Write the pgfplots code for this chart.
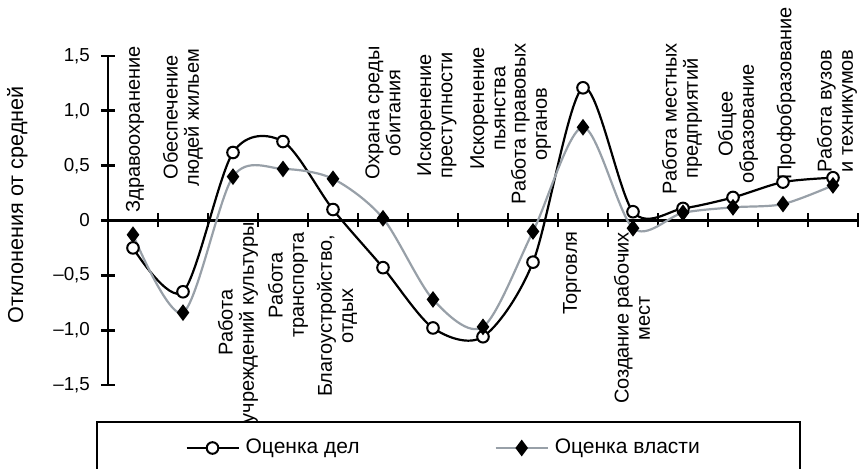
\documentclass[border=0pt]{standalone}
\usepackage{fontspec}
\setmainfont{Liberation Sans}
\usepackage{pgfplots}
\pgfplotsset{compat=1.18}
\definecolor{vlast}{RGB}{152,160,168}

\begin{document}
\begin{tikzpicture}
\useasboundingbox (-54pt,-42pt) rectangle (375.5pt,192.5pt);
\begin{axis}[
    at={(0pt,0pt)}, anchor=south west,
    x=25pt, y=54.833pt,
    xmin=-0.5, xmax=14.5, ymin=-1.5, ymax=1.5,
    axis x line=middle, axis y line=left,
    axis line style={-, line width=1.4pt},
    hide obscured x ticks=false, hide obscured y ticks=false,
    xtick={0.5,1.5,...,14.5}, xticklabels={},
    ytick={-1.5,-1,-0.5,0,0.5,1,1.5},
    yticklabels={{–1,5},{–1,0},{–0,5},{0},{0,5},{1,0},{1,5}},
    tick align=center, major tick length=7pt,
    tick style={line width=1.4pt, black},
    yticklabel style={font=\fontsize{9.4}{11}\selectfont, xshift=-2pt},
    ylabel={Отклонения от средней},
    ylabel style={at={(axis description cs:-0.121,0.547)}, anchor=center,
                  font=\fontsize{10.8}{12}\selectfont},
    clip=false,
    legend columns=2,
    legend style={draw=none, fill=none, inner sep=0pt,
        at={(axis description cs:0.1027,-0.1915)}, anchor=west,
        nodes={inner sep=0pt, font=\fontsize{10.5}{12}\selectfont},
        /tikz/every odd column/.style={column sep=3pt},
        /tikz/every even column/.style={column sep=0pt}},
    legend image code/.code={%
        \draw[mark repeat=2,mark phase=2,#1] plot coordinates {(0pt,0pt) (13pt,0pt) (26pt,0pt)};},
]
\addplot[black, line width=1.1pt, smooth, mark=*, mark size=2.9pt,
         mark options={fill=white, draw=black, line width=1pt}]
coordinates {(0,-0.25) (1,-0.65) (2,0.62) (3,0.72) (4,0.10) (5,-0.43) (6,-0.98) (7,-1.06)
             (8,-0.38) (9,1.21) (10,0.08) (11,0.11) (12,0.21) (13,0.35) (14,0.39)};
\addlegendentry{\makebox[124.5pt][l]{Оценка дел}}
\addplot[vlast, line width=1.1pt, smooth, mark=diamond*, mark size=3.3pt,
         mark options={fill=black, draw=black}]
coordinates {(0,-0.13) (1,-0.84) (2,0.40) (3,0.47) (4,0.38) (5,0.02) (6,-0.72) (7,-0.97)
             (8,-0.10) (9,0.85) (10,-0.07) (11,0.07) (12,0.12) (13,0.15) (14,0.32)};
\addlegendentry{Оценка власти}

\begin{scope}[every node/.style={rotate=90, align=center, font=\fontsize{10}{10.6}\selectfont}]
\node at (axis cs:0.04,0.83) {Здравоохранение};
\node at (axis cs:1.0,0.94) {Обеспечение\\людей жильем};
\node at (axis cs:2.1,-0.93) {Работа\\учреждений культуры};
\node at (axis cs:3.1,-0.59) {Работа\\транспорта};
\node at (axis cs:4.08,-0.87) {Благоустройство,\\отдых};
\node at (axis cs:5.0,0.98) {Охрана среды\\обитания};
\node at (axis cs:6.08,0.96) {Искоренение\\преступности};
\node at (axis cs:7.1,1.02) {Искоренение\\пьянства};
\node at (axis cs:7.96,0.88) {Работа правовых\\органов};
\node at (axis cs:8.78,-0.48) {Торговля};
\node at (axis cs:9.98,-0.89) {Создание рабочих\\мест};
\node at (axis cs:10.98,0.93) {Работа местных\\предприятий};
\node at (axis cs:12.1,0.88) {Общее\\образование};
\node at (axis cs:13.06,1.16) {Профобразование};
\node at (axis cs:14.08,1.0) {Работа вузов\\и техникумов};
\end{scope}
\end{axis}
\draw[line width=1.3pt] (-5.5pt,-60pt) -- (-5.5pt,-18.5pt) -- (346pt,-18.5pt) -- (346pt,-60pt);
\end{tikzpicture}
\end{document}
